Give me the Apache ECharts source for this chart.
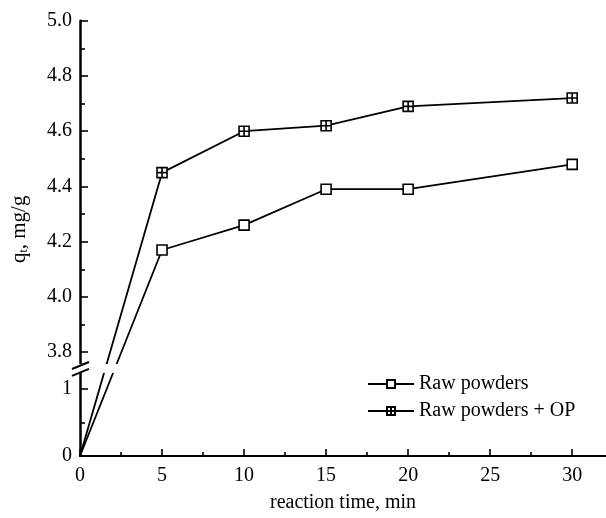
<!DOCTYPE html>
<html>
<head>
<meta charset="utf-8">
<script src="https://cdn.jsdelivr.net/npm/echarts@6/dist/echarts.min.js"></script>
<style>
html,body{margin:0;padding:0;background:#fff;}
#main{width:606px;height:518px;}
</style>
</head>
<body>
<div id="main"></div>
<script>
// ---- data ----
const reactionTime = [0, 5, 10, 15, 20, 30];
const rawPowders = [0, 4.17, 4.26, 4.39, 4.39, 4.48];
const rawPowdersOP = [0, 4.45, 4.60, 4.62, 4.69, 4.72];
const seriesNames = ['Raw powders', 'Raw powders + OP'];
const xTickValues = [0, 5, 10, 15, 20, 25, 30];
const xMinorValues = [2.5, 7.5, 12.5, 17.5, 22.5, 27.5];
const yTicksLow = [0, 1];
const yMinorLow = [0.5];
const yTicksHigh = [3.8, 4.0, 4.2, 4.4, 4.6, 4.8, 5.0];
const yMinorHigh = [3.9, 4.1, 4.3, 4.5, 4.7, 4.9];

// ---- broken-axis scale (lower segment 0..1.3 compressed, upper 3.75..5.0) ----
const LOW_SCALE = 68;      // display units per data unit, lower segment
const HIGH_SCALE = 280.3;  // display units per data unit, upper segment
const HIGH_BASE = 105.3;   // display position of 3.8
const HIGH_START = 3.8;
const SPLIT = 2.0;         // values below go to lower segment
const Y_MAX_DISP = HIGH_BASE + (5.0 - HIGH_START) * HIGH_SCALE;
const X_MAX = 32.06;
const BREAK_LO_DISP = 84.3, BREAK_HI_DISP = 93.3;

function toDisp(v) {
  return v < SPLIT ? v * LOW_SCALE : HIGH_BASE + (v - HIGH_START) * HIGH_SCALE;
}
const labelMap = {};
yTicksLow.forEach(v => labelMap[toDisp(v).toFixed(3)] = String(v));
yTicksHigh.forEach(v => labelMap[toDisp(v).toFixed(3)] = v.toFixed(1));
const yMajorDisp = yTicksLow.concat(yTicksHigh).map(toDisp);
const yMinorDisp = yMinorLow.concat(yMinorHigh).map(toDisp);

const FONT = '"Liberation Serif", "Times New Roman", serif';
const BLACK = '#000';

const crossSquare = 'path://M0,0H10V10H0Z M5,0V10 M0,5H10';

function mkSeries(name, vals, symbol) {
  return {
    name: name,
    type: 'line',
    xAxisIndex: 0,
    yAxisIndex: 0,
    data: reactionTime.map((x, i) => {
      const item = { value: [x, toDisp(vals[i])] };
      if (x === 0) item.symbol = 'none';
      return item;
    }),
    symbol: symbol,
    symbolSize: 10,
    showAllSymbol: true,
    lineStyle: { color: BLACK, width: 1.8 },
    itemStyle: { color: '#fff', borderColor: BLACK, borderWidth: 1.6 },
    emphasis: { disabled: true },
    animation: false,
    z: 3
  };
}

const chart = echarts.init(document.getElementById('main'), null, { renderer: 'canvas' });

const option = {
  animation: false,
  backgroundColor: '#fff',
  grid: { left: 80, right: 0, top: 20.7, bottom: 55.7 },
  legend: {
    orient: 'vertical',
    left: 362,
    top: 369,
    itemWidth: 46,
    itemHeight: 10,
    itemGap: 7,
    data: seriesNames,
    textStyle: { fontFamily: FONT, fontSize: 20, color: BLACK, padding: [0, 0, 0, 0] }
  },
  xAxis: [
    {
      type: 'value', min: 0, max: X_MAX, position: 'bottom',
      axisLine: { show: true, onZero: false, lineStyle: { color: BLACK, width: 2.2 } },
      axisTick: { show: true, inside: true, length: 7, customValues: xTickValues, lineStyle: { color: BLACK, width: 1.6 } },
      axisLabel: { customValues: xTickValues, margin: 10, fontFamily: FONT, fontSize: 20, color: BLACK },
      splitLine: { show: false },
      name: 'reaction time, min', nameLocation: 'middle', nameGap: 37,
      nameTextStyle: { fontFamily: FONT, fontSize: 20, color: BLACK }
    },
    {
      type: 'value', min: 0, max: X_MAX, position: 'bottom',
      axisLine: { show: false },
      axisTick: { show: true, inside: true, length: 4, customValues: xMinorValues, lineStyle: { color: BLACK, width: 1.6 } },
      axisLabel: { show: false }, splitLine: { show: false }
    },
    {
      type: 'value', min: 0, max: X_MAX, position: 'top',
      axisLine: { show: true, lineStyle: { color: BLACK, width: 2.2 } },
      axisTick: { show: false }, axisLabel: { show: false }, splitLine: { show: false }
    }
  ],
  yAxis: [
    {
      type: 'value', min: 0, max: Y_MAX_DISP, position: 'left',
      axisLine: { show: true, onZero: false, lineStyle: { color: BLACK, width: 2.5 } },
      axisTick: { show: true, inside: true, length: 8, customValues: yMajorDisp, lineStyle: { color: BLACK, width: 1.6 } },
      axisLabel: {
        customValues: yMajorDisp, margin: 8, fontFamily: FONT, fontSize: 20, color: BLACK,
        formatter: v => labelMap[Number(v).toFixed(3)] || ''
      },
      splitLine: { show: false },
      name: 'q{sub|t}, mg/g', nameLocation: 'middle', nameGap: 50, nameRotate: 90,
      nameTextStyle: {
        fontFamily: FONT, fontSize: 21, color: BLACK, padding: [0, 0, 0, 18],
        rich: { sub: { fontFamily: FONT, fontSize: 12, color: BLACK, padding: [10, 0, 0, 0] } }
      }
    },
    {
      type: 'value', min: 0, max: Y_MAX_DISP, position: 'left',
      axisLine: { show: false },
      axisTick: { show: true, inside: true, length: 5, customValues: yMinorDisp, lineStyle: { color: BLACK, width: 1.6 } },
      axisLabel: { show: false }, splitLine: { show: false }
    }
  ],
  series: [
    mkSeries(seriesNames[0], rawPowders, 'rect'),
    mkSeries(seriesNames[1], rawPowdersOP, crossSquare)
  ]
};
chart.setOption(option);

// axis-break decoration, positioned through the axis scale
const x0 = chart.convertToPixel({ xAxisIndex: 0 }, 0);
const yHi = chart.convertToPixel({ yAxisIndex: 0 }, BREAK_HI_DISP);
const yLo = chart.convertToPixel({ yAxisIndex: 0 }, BREAK_LO_DISP);
chart.setOption({
  graphic: [
    { type: 'rect', z: 100, shape: { x: x0 - 3, y: yHi, width: 90, height: yLo - yHi }, style: { fill: '#fff' } },
    { type: 'line', z: 101, shape: { x1: x0 - 8, y1: yHi + 5, x2: x0 + 9, y2: yHi - 2 }, style: { stroke: BLACK, lineWidth: 2 } },
    { type: 'line', z: 101, shape: { x1: x0 - 8, y1: yLo + 3, x2: x0 + 9, y2: yLo - 4 }, style: { stroke: BLACK, lineWidth: 2 } }
  ]
});
</script>
</body>
</html>
